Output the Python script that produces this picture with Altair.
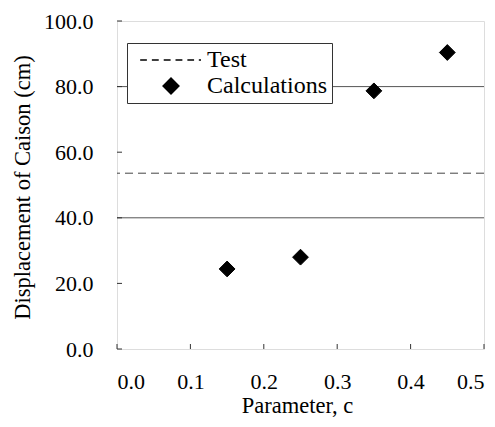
import altair as alt
import pandas as pd

# Data
calc_c = [0.15, 0.25, 0.35, 0.45]
calc_disp = [24.4, 28.0, 78.7, 90.4]
test_disp = [53.6]
grid_y = [40, 80]
x_ticks = [0.0, 0.1, 0.2, 0.3, 0.4, 0.5]
y_ticks = [0, 20, 40, 60, 80, 100]
series_names = ["Test", "Calculations"]

FONT = "Liberation Serif"
W, H = 367, 328

calc_df = pd.DataFrame({"c": calc_c, "disp": calc_disp, "series": ["Calculations"] * len(calc_c)})
test_df = pd.DataFrame({"disp": test_disp})
grid_df = pd.DataFrame({"y": grid_y})
xt_df = pd.DataFrame({"x": x_ticks})
yt_df = pd.DataFrame({"y": y_ticks})

xscale = alt.Scale(domain=[0, 0.5], nice=False, zero=False)
yscale = alt.Scale(domain=[0, 100], nice=False, zero=False)

# legend symbol for the dashed "Test" line
dashes = [(-3.90, -3.05), (-2.42, -1.55), (-0.92, -0.05), (0.57, 1.44), (2.07, 2.92), (3.52, 3.80)]
dash_path = "".join(f"M{a},0H{b}" for a, b in dashes)

xaxis = alt.Axis(values=x_ticks, format=".1f", title="Parameter, c")
yaxis = alt.Axis(values=y_ticks, format=".1f", title="Displacement of Caison (cm)")

grid = alt.Chart(grid_df).mark_rule(color="#555", strokeWidth=1).encode(
    y=alt.Y("y:Q", scale=yscale, axis=yaxis)
)

xticks_layer = alt.Chart(xt_df).mark_rule(color="#333", strokeWidth=1).encode(
    x=alt.X("x:Q", scale=xscale, axis=xaxis), y=alt.value(H), y2=alt.value(H - 5)
)
yticks_layer = alt.Chart(yt_df).mark_rule(color="#333", strokeWidth=1).encode(
    y=alt.Y("y:Q", scale=yscale, axis=yaxis), x=alt.value(0), x2=alt.value(5)
)

test = alt.Chart(test_df).mark_rule(color="#444", strokeWidth=1, strokeDash=[8, 5]).encode(
    y=alt.Y("disp:Q", scale=yscale, axis=yaxis)
)

points = alt.Chart(calc_df).mark_point(filled=True, size=250, color="black",
                                       stroke="black", strokeWidth=1, opacity=1).encode(
    x=alt.X("c:Q", scale=xscale, axis=xaxis),
    y=alt.Y("disp:Q", scale=yscale, axis=yaxis),
    shape=alt.Shape("series:N",
                    scale=alt.Scale(domain=series_names, range=[dash_path, "diamond"]),
                    legend=alt.Legend(title=None, orient="none", legendX=10, legendY=22,
                                      padding=5, rowPadding=2, symbolSize=250,
                                      symbolOffset=27, labelOffset=24,
                                      labelFont=FONT, labelFontSize=24, labelColor="black",
                                      symbolFillColor="black",
                                      strokeColor="#333", fillColor="white")),
)

chart = alt.layer(grid, xticks_layer, yticks_layer, test, points).properties(
    width=W, height=H,
    padding={"left": 109, "top": 13, "right": 3, "bottom": 70},
    autosize=alt.AutoSizeParams(type="none"),
).configure_view(stroke="black", strokeWidth=1).configure(background="white").configure_axis(
    grid=False, domain=False, ticks=False, labelFont=FONT, labelFontSize=22,
    labelColor="black", titleFont=FONT, titleFontSize=22.5, titleFontWeight="normal",
    titleColor="black",
).configure_axisX(
    labelPadding=22, titleBaseline="alphabetic", titleY=63, titleX=180
).configure_axisY(
    labelPadding=24, titleBaseline="alphabetic", titleX=-88, titleY=166
)

chart.save("out.html", embed_options={"renderer": "svg", "actions": False})
